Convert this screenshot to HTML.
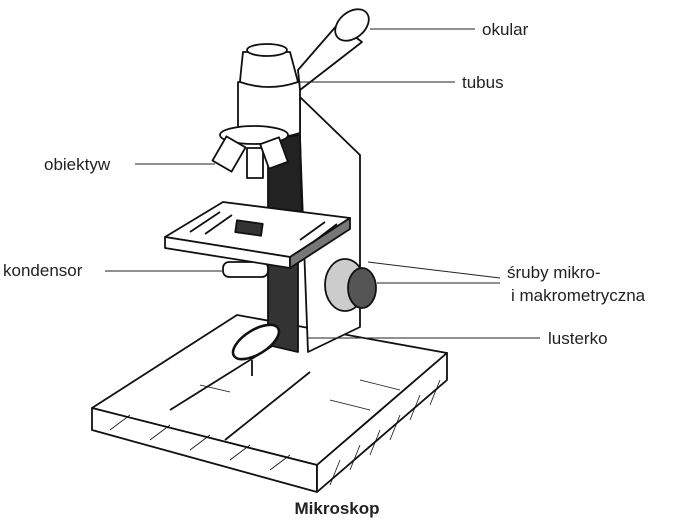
<!DOCTYPE html>
<html><head><meta charset="utf-8"><style>
html,body{margin:0;padding:0;background:#fff;}
svg{display:block;}
text{font-family:"Liberation Sans","DejaVu Sans",sans-serif;font-size:17px;fill:#222;}
</style></head><body>
<svg width="675" height="528" viewBox="0 0 675 528" xmlns="http://www.w3.org/2000/svg">
<g stroke="#111" stroke-width="1.8" fill="#fff" stroke-linejoin="round">
<!-- base -->
<polygon points="92,408 237,315 447,353 317,465"/>
<polygon points="92,408 317,465 317,492 92,430"/>
<polygon points="317,465 447,353 447,380 317,492"/>
<line x1="170" y1="410" x2="290" y2="335"/>
<line x1="225" y1="440" x2="310" y2="372"/>
<g stroke-width="0.8">
<line x1="110" y1="430" x2="130" y2="415"/><line x1="150" y1="440" x2="170" y2="425"/><line x1="190" y1="450" x2="210" y2="435"/><line x1="230" y1="460" x2="250" y2="445"/><line x1="270" y1="470" x2="290" y2="455"/>
<line x1="330" y1="485" x2="340" y2="460"/><line x1="350" y1="470" x2="360" y2="445"/><line x1="370" y1="455" x2="380" y2="430"/><line x1="390" y1="440" x2="400" y2="415"/><line x1="410" y1="420" x2="420" y2="395"/><line x1="430" y1="405" x2="440" y2="380"/>
<line x1="330" y1="400" x2="370" y2="410"/><line x1="360" y1="380" x2="400" y2="390"/><line x1="200" y1="385" x2="230" y2="392"/>
</g>
<!-- arm -->
<polygon points="300,97 360,155 360,327 308,352 300,140"/>
<!-- dark pillar -->
<polygon points="268,140 300,135 302,215 268,215" fill="#222"/>
<polygon points="268,250 298,255 298,352 268,345" fill="#333"/>
<!-- mirror -->
<ellipse cx="256" cy="342" rx="26" ry="12" transform="rotate(-32 256 342)" stroke-width="2.6"/>
<line x1="252" y1="360" x2="252" y2="376"/>
<!-- knob -->
<ellipse cx="345" cy="285" rx="20" ry="26" fill="#ccc"/>
<ellipse cx="362" cy="288" rx="14" ry="20" fill="#555"/>
<!-- condenser -->
<rect x="223" y="262" width="45" height="15" rx="6"/>
<!-- stage -->
<polygon points="165,237 223,202 350,218 290,257"/>
<polygon points="165,237 290,257 290,268 165,248"/>
<polygon points="290,257 350,218 350,229 290,268" fill="#777"/>
<rect x="236" y="222" width="26" height="12" fill="#333" transform="rotate(8 249 228)"/>
<path d="M190,232 L220,212 M205,234 L232,215 M300,240 L325,222 M312,243 L337,224" fill="none"/>
<!-- head -->
<path d="M238,82 L238,133 Q269,143 300,133 L300,82 Z"/>
<path d="M243,52 Q240,80 240,82 Q269,92 298,82 L290,52 Z"/>
<ellipse cx="267" cy="50" rx="20" ry="6"/>
<!-- eyepiece tube -->
<polygon points="298,70 338,24 362,42 300,90"/>
<ellipse cx="352" cy="25" rx="19" ry="13" transform="rotate(-40 352 25)"/>
<!-- nosepiece -->
<ellipse cx="254" cy="135" rx="34" ry="9"/>
<rect x="218" y="140" width="22" height="28" transform="rotate(30 229 154)"/>
<rect x="247" y="148" width="16" height="30"/>
<rect x="264" y="140" width="20" height="26" transform="rotate(-20 274 153)"/>
</g>
<g stroke="#222" stroke-width="1">
<line x1="370" y1="29" x2="475" y2="29"/>
<line x1="300" y1="82" x2="455" y2="82"/>
<line x1="135" y1="164" x2="215" y2="164"/>
<line x1="105" y1="271" x2="222" y2="271"/>
<line x1="368" y1="262" x2="500" y2="278"/>
<line x1="377" y1="283" x2="500" y2="283"/>
<line x1="308" y1="338" x2="540" y2="338"/>
</g>
<text x="482" y="35">okular</text>
<text x="462" y="88">tubus</text>
<text x="44" y="170">obiektyw</text>
<text x="3" y="276">kondensor</text>
<text x="507" y="278">śruby mikro-</text>
<text x="511" y="301">i makrometryczna</text>
<text x="548" y="344">lusterko</text>
<text x="337" y="514" text-anchor="middle" style="font-weight:bold">Mikroskop</text>
</svg>
</body></html>
